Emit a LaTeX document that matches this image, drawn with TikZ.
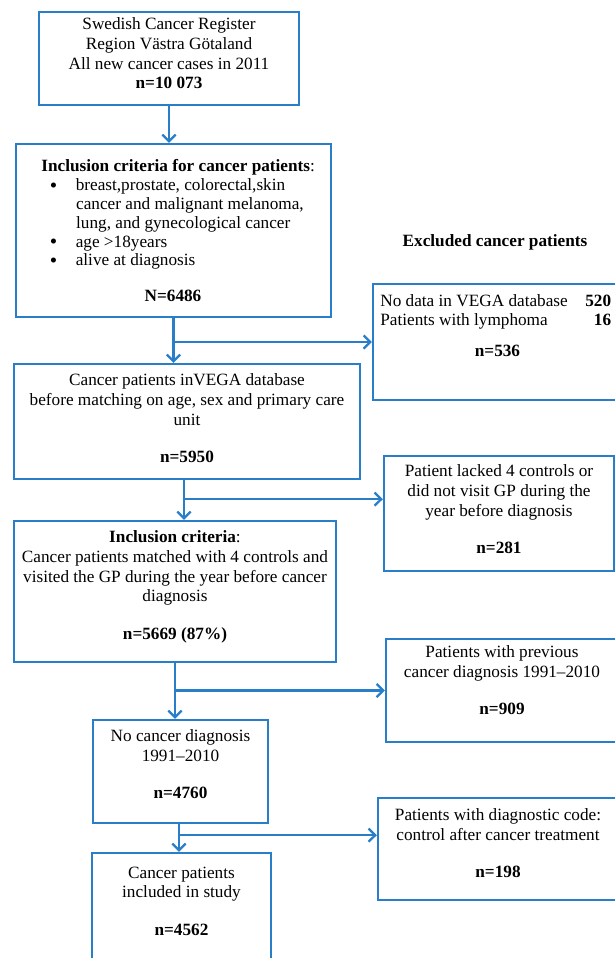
\documentclass[tikz,border=0pt]{standalone}
\usepackage{fontspec}
\setmainfont{Liberation Serif}
\usepackage{xcolor}
\usetikzlibrary{arrows.meta,calc}
\definecolor{flowblue}{RGB}{40,126,200}

\begin{document}
\begin{tikzpicture}[x=0.02cm,y=-0.02cm,
        box/.style={draw=flowblue, line width=1.3pt, inner sep=0pt},
        txt/.style={align=center, inner sep=0pt, font=\fontsize{9.8}{11.2}\selectfont},
        arr/.style={draw=flowblue, line width=1.3pt, -{Straight Barb[length=3.8pt,width=7.5pt]}}]
        \useasboundingbox (0,0) rectangle (615,958);
        % Boites principales
        \node[box, minimum width=5.2cm, minimum height=1.86cm] (reg) at (169,58.5) {};
        \node[box, minimum width=6.3cm, minimum height=3.46cm] (crit) at (173.5,230.5) {};
        \node[box, minimum width=6.92cm, minimum height=2.3cm] (vega) at (187,421.5) {};
        \node[box, minimum width=6.44cm, minimum height=2.82cm] (match) at (175,591.5) {};
        \node[box, minimum width=3.5cm, minimum height=2.06cm] (nocanc) at (180.5,771.5) {};
        \node[box, minimum width=3.58cm, minimum height=2.74cm] (study) at (181.5,921.5) {};
        % Boites des exclus
        \node[box, minimum width=4.94cm, minimum height=2.32cm] (exc1) at (496.5,342) {};
        \node[box, minimum width=4.6cm, minimum height=2.3cm] (exc2) at (499,513.5) {};
        \node[box, minimum width=4.68cm, minimum height=2.06cm] (exc3) at (503,690.5) {};
        \node[box, minimum width=4.84cm, minimum height=2.04cm] (exc4) at (499,849) {};
        % Textes
        \node[txt, anchor=north] (reg-t) at (169,17.5) {Swedish Cancer Register\\Region Västra Götaland\\All new cancer cases in 2011\\\textbf{n=10 073}};
        \node[txt, font=\fontsize{9.8}{10.7}\selectfont, align=left, anchor=north west] (crit-t) at (41,159.5) {\textbf{Inclusion criteria for cancer patients}:\\
            \hspace*{4.8pt}\smash{\raisebox{-0.8pt}{\fontsize{12}{10}\selectfont\textbullet}}\hspace*{10.6pt}breast,prostate, colorectal,skin\\
            \hspace*{19.8pt}cancer and malignant melanoma,\\
            \hspace*{19.8pt}lung, and gynecological cancer\\
            \hspace*{4.8pt}\smash{\raisebox{-0.8pt}{\fontsize{12}{10}\selectfont\textbullet}}\hspace*{10.6pt}age >18years\\
            \hspace*{4.8pt}\smash{\raisebox{-0.8pt}{\fontsize{12}{10}\selectfont\textbullet}}\hspace*{10.6pt}alive at diagnosis};
        \node[txt] (crit-n) at (173,296) {\textbf{N=6486}};
        \node[txt, anchor=north] (vega-t) at (187,373.5) {Cancer patients inVEGA database\\before matching on age, sex and primary care\\unit\\[10pt]\textbf{n=5950}};
        \node[txt, anchor=north] (match-t) at (175,530.5) {\textbf{Inclusion criteria}:\\Cancer patients matched with 4 controls and\\visited the GP during the year before cancer\\diagnosis\\[10pt]\textbf{n=5669 (87\%)}};
        \node[txt, anchor=north] (nocanc-t) at (180.5,729.5) {No cancer diagnosis\\1991–2010\\[10pt]\textbf{n=4760}};
        \node[txt, anchor=north] (study-t) at (181.5,866.5) {Cancer patients\\included in study\\[10pt]\textbf{n=4562}};
        \node[txt] (exc-head) at (495,242) {\textbf{Excluded cancer patients}};
        \node[txt, anchor=north west] (exc1-t) at (380,292) {\begin{tabular}{@{}l@{\hspace{10pt}}r@{}}No data in VEGA database & \textbf{520}\\Patients with lymphoma & \textbf{16}\end{tabular}};
        \node[txt] (exc1-n) at (497.5,351) {\textbf{n=536}};
        \node[txt, anchor=north] (exc2-t) at (499,464.5) {Patient lacked 4 controls or\\did not visit GP during the\\year before diagnosis\\[10pt]\textbf{n=281}};
        \node[txt, anchor=north] (exc3-t) at (502,645.5) {Patients with previous\\cancer diagnosis 1991–2010\\[10pt]\textbf{n=909}};
        \node[txt, anchor=north] (exc4-t) at (498,808.5) {Patients with diagnostic code:\\control after cancer treatment\\[10pt]\textbf{n=198}};
        % Fleches
        \draw[arr] (reg.south) -- (reg.south |- crit.north);
        \draw[arr] (crit.south) -- (crit.south |- vega.north);
        \draw[arr] (crit.south |- exc1.west) -- (exc1.west);
        \coordinate (j2) at ($(vega.south)+(-3,19)$);
        \draw[arr] ($(vega.south)+(-3,0)$) -- (j2) -- (j2 |- match.north);
        \draw[arr] (j2) -- (j2 -| exc2.west);
        \draw[arr] (match.south) -- (match.south |- nocanc.north);
        \draw[arr] (match.south |- exc3.west) -- (exc3.west);
        \coordinate (j4) at ($(nocanc.south)+(-1.5,11)$);
        \draw[arr] ($(nocanc.south)+(-1.5,0)$) -- (j4 |- study.north);
        \draw[arr] (j4) -- (j4 -| exc4.west);
\end{tikzpicture}
\end{document}
